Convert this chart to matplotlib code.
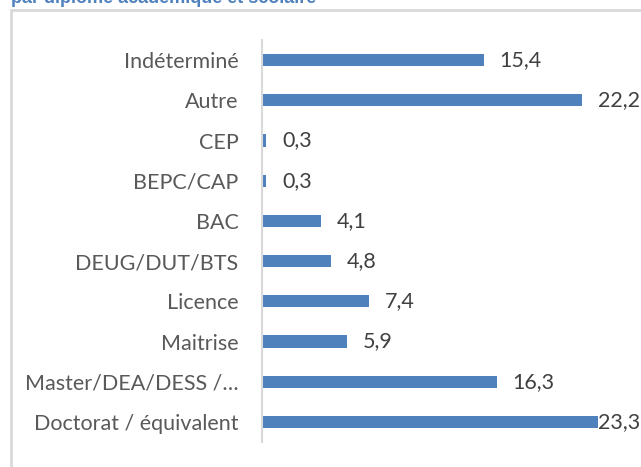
import matplotlib.pyplot as plt
from matplotlib.patches import Rectangle

categories = ["Doctorat / équivalent", "Master/DEA/DESS /…", "Maitrise", "Licence",
              "DEUG/DUT/BTS", "BAC", "BEPC/CAP", "CEP", "Autre", "Indéterminé"]
values = [23.3, 16.3, 5.9, 7.4, 4.8, 4.1, 0.3, 0.3, 22.2, 15.4]
title = "par diplôme académique et scolaire"

plt.rcParams["font.family"] = ["Lato", "DejaVu Sans"]

fig = plt.figure(figsize=(6.41, 4.67), dpi=100)
ax = fig.add_axes([262 / 641, 1 - 442 / 467, (615 - 262) / 641, 402 / 467])

# chart frame (grey border) and the title, cut off at the top as in the source
fig.patches.append(Rectangle((11 / 641, -0.01), 0.99, 1 - 10 / 467 + 0.01,
                             transform=fig.transFigure, fill=False,
                             edgecolor="#D9D9D9", linewidth=2))
fig.text(11 / 641, 1 - 3 / 467, title, color="#4F81BD", fontsize=13,
         fontweight="bold", family="Liberation Sans", va="baseline", ha="left")

pos = range(len(categories))
ax.barh(pos, values, height=0.3, color="#4F81BD")
for y, v in zip(pos, values):
    # keep the widest label inside the chart, like excel does
    ax.text(min(v + 1.1, 23.35), y, f"{v:.1f}".replace(".", ","), va="center",
            ha="left", fontsize=15.5, color="#404040")

ax.set_ylim(-0.5, len(categories) - 0.5)
ax.set_xlim(0, 24.5)
ax.set_yticks(list(pos))
ax.set_yticklabels(categories, fontsize=15.5, color="#595959")
ax.tick_params(axis="y", length=0, pad=17)
ax.set_xticks([])
for s in ["top", "right", "bottom"]:
    ax.spines[s].set_visible(False)
ax.spines["left"].set_color("#D9D9D9")
ax.spines["left"].set_linewidth(1.5)

plt.savefig("out.png", dpi=100)
